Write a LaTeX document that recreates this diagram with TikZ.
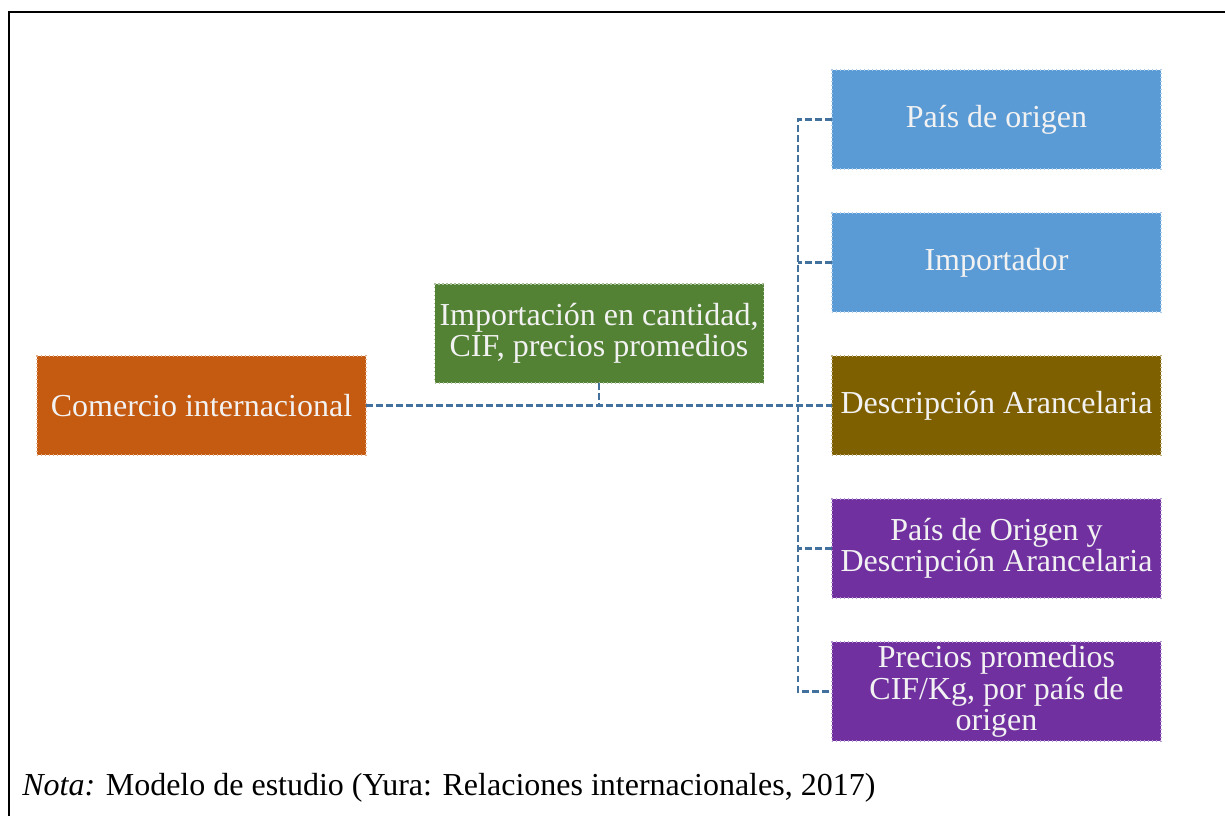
\documentclass[tikz,border=0pt]{standalone}
\usepackage{fontspec}
\setmainfont{Liberation Serif}
\usetikzlibrary{positioning, calc}
\definecolor{linkblue}{HTML}{41719C}
\definecolor{orangebox}{HTML}{C55A11}
\definecolor{greenbox}{HTML}{548235}
\definecolor{bluebox}{HTML}{5B9BD5}
\definecolor{brownbox}{HTML}{7F6000}
\definecolor{purplebox}{HTML}{7030A0}

\begin{document}
\begin{tikzpicture}[x=0.75pt, y=-0.75pt, node distance=33pt, align=center,
  box node/.style={rectangle, dotted, line width=1pt, minimum width=246.75pt,
    minimum height=74.25pt, inner sep=1pt, outer sep=0pt, text=white!95!black,
    font=\fontsize{24}{23.5}\selectfont},
  link/.style={draw=linkblue, line width=2pt, dash pattern=on 5pt off 2.5pt},
  frame/.style={draw=black, line width=1.5pt}]
  \useasboundingbox (0,0) rectangle (1225,816);
  \draw[frame] (9,816) |- (1225,12);
  \node[box node, fill=orangebox, draw=orangebox!50!white] (1) at (201.5,405.5) {Comercio internacional};
  \node[box node, fill=greenbox, draw=greenbox!50!white] (2) at (599,333.5) {Importación en cantidad,\\CIF, precios promedios};
  \node[box node, fill=brownbox, draw=brownbox!50!white] (5) at (996.5,405.5) {Descripción Arancelaria};
  \node[box node, fill=bluebox, draw=bluebox!50!white, above=of 5] (4) {Importador};
  \node[box node, fill=bluebox, draw=bluebox!50!white, above=of 4] (3) {País de origen};
  \node[box node, fill=purplebox, draw=purplebox!50!white, below=of 5] (6) {País de Origen y\\Descripción Arancelaria};
  \node[box node, fill=purplebox, draw=purplebox!50!white, below=of 6] (7) {Precios promedios\\CIF/Kg, por país de\\origen};
  \node[anchor=base west, inner sep=0pt, font=\fontsize{24}{28}\selectfont] (nota) at (22,795)
    {\textit{Nota:} Modelo de estudio (Yura: Relaciones internacionales, 2017)};
  \coordinate (bus) at (798,405.5);
  \draw[link] (1) -- (5);
  \draw[link] (2) -- (2 |- 1);
  \draw[link] (3.west) -| (bus) |- (7.west);
  \draw[link] (4.west) -- (4.west -| bus);
  \draw[link] (6.west) -- (6.west -| bus);
 \end{tikzpicture}
\end{document}
